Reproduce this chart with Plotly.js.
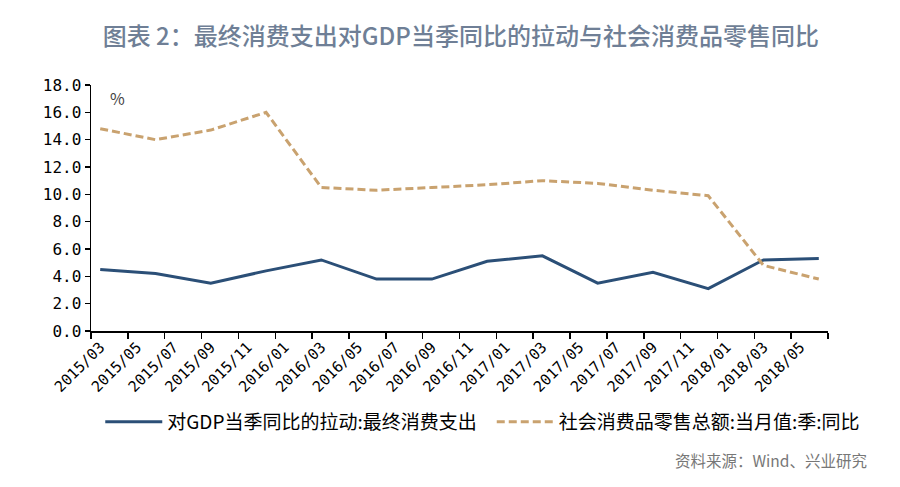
<!DOCTYPE html>
<html>
<head>
<meta charset="utf-8">
<script src="https://cdn.plot.ly/plotly-3.0.1.min.js"></script>
<style>html,body{margin:0;padding:0;background:#fff;}#chart{width:900px;height:487px;}</style>
</head>
<body>
<div id="chart"></div>
<script>
// Monthly category axis (each month is one band)
const months = [
  "2015/03","2015/04","2015/05","2015/06","2015/07","2015/08","2015/09","2015/10","2015/11","2015/12",
  "2016/01","2016/02","2016/03","2016/04","2016/05","2016/06","2016/07","2016/08","2016/09","2016/10","2016/11","2016/12",
  "2017/01","2017/02","2017/03","2017/04","2017/05","2017/06","2017/07","2017/08","2017/09","2017/10","2017/11","2017/12",
  "2018/01","2018/02","2018/03","2018/04","2018/05","2018/06"
];
// Quarterly observations
const quarters = [
  "2015/03","2015/06","2015/09","2015/12",
  "2016/03","2016/06","2016/09","2016/12",
  "2017/03","2017/06","2017/09","2017/12",
  "2018/03","2018/06"
];
const gdpPull = [4.5, 4.2, 3.5, 4.4, 5.2, 3.8, 3.8, 5.1, 5.5, 3.5, 4.3, 3.1, 5.2, 5.3];
const retailYoY = [14.8, 14.0, 14.7, 16.0, 10.5, 10.3, 10.5, 10.7, 11.0, 10.8, 10.3, 9.9, 4.8, 3.8];
const yTicks = [0, 2, 4, 6, 8, 10, 12, 14, 16, 18];

const seriesNames = ["对GDP当季同比的拉动:最终消费支出", "社会消费品零售总额:当月值:季:同比"];
const titleText = "图表 2：最终消费支出对GDP当季同比的拉动与社会消费品零售同比";
const sourceText = "资料来源：Wind、兴业研究";

const FONT = "Noto Sans CJK SC, sans-serif";
const MONO = "DejaVu Sans Mono, monospace";

const traces = [
  {x: quarters, y: gdpPull, type: "scatter", mode: "lines", name: seriesNames[0],
   line: {color: "#2b4f77", width: 3}},
  {x: quarters, y: retailYoY, type: "scatter", mode: "lines", name: seriesNames[1],
   line: {color: "#c9a26f", width: 3, dash: "8px,4px"}}
];

const layout = {
  width: 900, height: 487,
  margin: {l: 91, r: 72, t: 85, b: 156},
  paper_bgcolor: "#fff", plot_bgcolor: "#fff",
  font: {family: FONT, color: "#000", size: 14},
  title: {text: titleText, x: 0.512, xanchor: "center", y: 0.925, yanchor: "middle",
          font: {family: FONT, size: 24, color: "#6f7f96", weight: 500}},
  xaxis: {
    type: "category", categoryorder: "array", categoryarray: months,
    range: [-0.5, months.length - 0.5],
    tickmode: "linear", tick0: 0, dtick: 2, tickson: "boundaries",
    ticks: "outside", ticklen: 6, tickcolor: "#000", tickwidth: 1.5,
    showline: true, linecolor: "#000", linewidth: 1.5,
    showgrid: false, zeroline: false, tickangle: -45,
    tickfont: {family: MONO, size: 15, color: "#000"}
  },
  yaxis: {
    range: [0, 18], tickmode: "array", tickvals: yTicks, tickformat: ".1f",
    ticks: "outside", ticklen: 5, tickcolor: "#000", tickwidth: 1.5,
    showline: true, linecolor: "#000", linewidth: 1.5,
    showgrid: false, zeroline: false,
    tickfont: {family: MONO, size: 16, color: "#000"}
  },
  showlegend: true,
  legend: {orientation: "h", x: -0.001, xanchor: "left", y: -0.37, yanchor: "middle",
           indentation: 10,
           font: {family: FONT, size: 19, color: "#000"}, itemwidth: 57,
           tracegroupgap: 0, bgcolor: "rgba(0,0,0,0)"},
  annotations: [
    {text: "%", xref: "paper", yref: "paper", x: 0.036, xanchor: "center",
     y: 0.947, yanchor: "middle", showarrow: false,
     font: {family: FONT, size: 16, color: "#444"}},
    {text: sourceText, xref: "paper", yref: "paper", x: 1.055, xanchor: "right",
     y: -0.525, yanchor: "middle", showarrow: false,
     font: {family: FONT, size: 15.5, color: "#777"}}
  ]
};

Plotly.newPlot("chart", traces, layout, {displayModeBar: false, staticPlot: true});
</script>
</body>
</html>
